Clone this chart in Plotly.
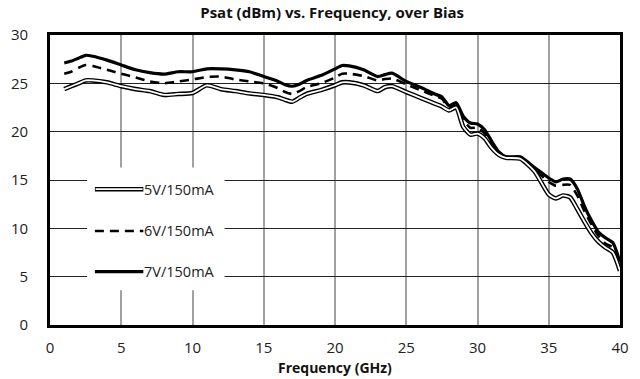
import plotly.graph_objects as go

# ---- data ----
freq_ghz = [1, 1.5, 2, 2.5, 3, 4, 5, 6, 7, 8, 9, 10, 11, 12, 13, 14, 15, 16, 16.5, 17,
            17.5, 18, 19, 20, 20.5, 21, 22, 23, 23.5, 24, 25, 26, 27, 27.5, 28, 28.5,
            29, 29.5, 30, 30.5, 31, 31.5, 32, 33, 34, 35, 35.5, 36, 36.5, 37, 37.5,
            38, 38.5, 39, 39.5, 40]

psat_7v = [27.1, 27.3, 27.6, 27.9, 27.8, 27.4, 26.9, 26.4, 26.1, 25.95, 26.2, 26.2, 26.5,
           26.5, 26.4, 26.2, 25.7, 25.2, 24.85, 24.7, 24.9, 25.3, 25.8, 26.5, 26.85, 26.8,
           26.4, 25.7, 25.9, 26.05, 25.2, 24.6, 23.9, 23.6, 22.7, 23.0, 21.6, 20.9, 20.8,
           20.2, 19.0, 17.9, 17.4, 17.4, 16.3, 15.2, 14.8, 15.1, 15.1, 14.1, 12.3, 10.8,
           9.6, 9.0, 8.5, 6.5]

psat_6v = [26.0, 26.2, 26.6, 26.9, 26.8, 26.4, 26.0, 25.6, 25.2, 25.0, 25.2, 25.4, 25.65,
           25.7, 25.4, 25.2, 25.0, 24.5, 24.1, 23.9, 24.2, 24.6, 25.0, 25.6, 26.0, 26.0,
           25.75, 25.3, 25.45, 25.5, 24.9, 24.3, 23.7, 23.4, 22.5, 22.7, 21.2, 20.4, 20.4,
           19.8, 18.8, 17.8, 17.3, 17.35, 16.1, 14.8, 14.4, 14.5, 14.5, 13.4, 11.8, 10.4,
           9.2, 8.4, 8.0, 6.0]

psat_5v = [24.4, 24.7, 25.0, 25.3, 25.3, 25.1, 24.7, 24.4, 24.2, 23.8, 23.9, 24.0, 24.8,
           24.4, 24.2, 23.95, 23.8, 23.55, 23.3, 23.1, 23.5, 23.9, 24.3, 24.8, 25.1, 25.1,
           24.8, 24.2, 24.6, 24.7, 24.1, 23.5, 22.9, 22.6, 22.2, 22.5, 20.5, 19.7, 19.8,
           19.3, 18.3, 17.6, 17.3, 17.2, 15.9, 13.5, 13.1, 13.4, 13.2, 12.0, 10.7, 9.5,
           8.6, 8.0, 7.5, 5.6]

series_names = ["5V/150mA", "6V/150mA", "7V/150mA"]
x_ticks = [0, 5, 10, 15, 20, 25, 30, 35, 40]
y_ticks = [0, 5, 10, 15, 20, 25, 30]

title_text = "Psat (dBm) vs. Frequency, over Bias"
x_title = "Frequency (GHz)"

FONT = "Open Sans"
SMOOTH = 0.6

fig = go.Figure()

# 7V: solid thick
fig.add_trace(go.Scatter(x=freq_ghz, y=psat_7v, mode="lines", name=series_names[2],
                         line=dict(color="black", width=3.2, shape="spline", smoothing=SMOOTH),
                         showlegend=False))
# 6V: dashed
fig.add_trace(go.Scatter(x=freq_ghz, y=psat_6v, mode="lines", name=series_names[1],
                         line=dict(color="black", width=2.6, dash="9px,6px", shape="spline",
                                   smoothing=SMOOTH),
                         showlegend=False))
# 5V: double line (black outline + white core)
fig.add_trace(go.Scatter(x=freq_ghz, y=psat_5v, mode="lines", name=series_names[0],
                         line=dict(color="black", width=4.6, shape="spline", smoothing=SMOOTH),
                         showlegend=False))
fig.add_trace(go.Scatter(x=freq_ghz, y=psat_5v, mode="lines", name=series_names[0],
                         line=dict(color="white", width=1.8, shape="spline", smoothing=SMOOTH),
                         showlegend=False, hoverinfo="skip"))

# ---- manual legend (white box + samples + labels) ----
shapes = [dict(type="rect", xref="x", yref="y", x0=2.6, x1=12.25, y0=3.6, y1=16.3,
               fillcolor="white", line=dict(width=0), layer="above")]
leg_x0, leg_x1, leg_tx = 3.15, 6.55, 6.45
leg_rows = {series_names[0]: 14.05, series_names[1]: 9.73, series_names[2]: 5.52}
y5 = leg_rows[series_names[0]]
shapes.append(dict(type="line", xref="x", yref="y", x0=leg_x0, x1=leg_x1, y0=y5, y1=y5,
                   line=dict(color="black", width=4.6), layer="above"))
shapes.append(dict(type="line", xref="x", yref="y", x0=leg_x0 + 0.05, x1=leg_x1 - 0.05, y0=y5, y1=y5,
                   line=dict(color="white", width=1.8), layer="above"))
y6 = leg_rows[series_names[1]]
shapes.append(dict(type="line", xref="x", yref="y", x0=leg_x0, x1=leg_x1, y0=y6, y1=y6,
                   line=dict(color="black", width=2.6, dash="9px,6px"), layer="above"))
y7 = leg_rows[series_names[2]]
shapes.append(dict(type="line", xref="x", yref="y", x0=leg_x0, x1=leg_x1, y0=y7, y1=y7,
                   line=dict(color="black", width=3.2), layer="above"))

annotations = []
for name, yy in leg_rows.items():
    annotations.append(dict(x=leg_tx, y=yy, xref="x", yref="y", text=name, showarrow=False,
                            xanchor="left", yanchor="middle",
                            font=dict(family=FONT, size=14.5, color="#222")))

# x axis title as annotation
annotations.append(dict(x=0.5, y=-0.145, xref="paper", yref="paper", text="<b>" + x_title + "</b>",
                        showarrow=False, xanchor="center", yanchor="middle",
                        font=dict(family=FONT, size=14, color="#111")))

fig.update_layout(
    width=640, height=379,
    margin=dict(l=44, r=11, t=35, b=54),
    paper_bgcolor="white", plot_bgcolor="white",
    title=dict(text="<b>" + title_text + "</b>", x=0.519, xref="container",
               xanchor="center", y=0.966, yref="container", yanchor="middle",
               font=dict(family=FONT, size=15, color="#111")),
    font=dict(family=FONT, size=15, color="#222"),
    shapes=shapes,
    annotations=annotations,
    showlegend=False,
)

fig.update_xaxes(range=[0, 40], tickvals=x_ticks, ticktext=[str(t) for t in x_ticks],
                 showgrid=True, gridcolor="#a0a0a0", gridwidth=1.5,
                 showline=True, linecolor="black", linewidth=2.6, mirror=True,
                 zeroline=False, ticks="", ticklabelstandoff=7,
                 tickfont=dict(family=FONT, size=15, color="#222"))
fig.update_yaxes(range=[0, 30], tickvals=y_ticks, ticktext=[str(t) for t in y_ticks],
                 showgrid=True, gridcolor="#222222", gridwidth=1.4,
                 showline=True, linecolor="black", linewidth=2.6, mirror=True,
                 zeroline=False, ticks="", ticklabelstandoff=16,
                 tickfont=dict(family=FONT, size=15, color="#222"))

fig.write_html("out.html", config={"displayModeBar": False},
               post_script="document.body.style.margin='0';")
